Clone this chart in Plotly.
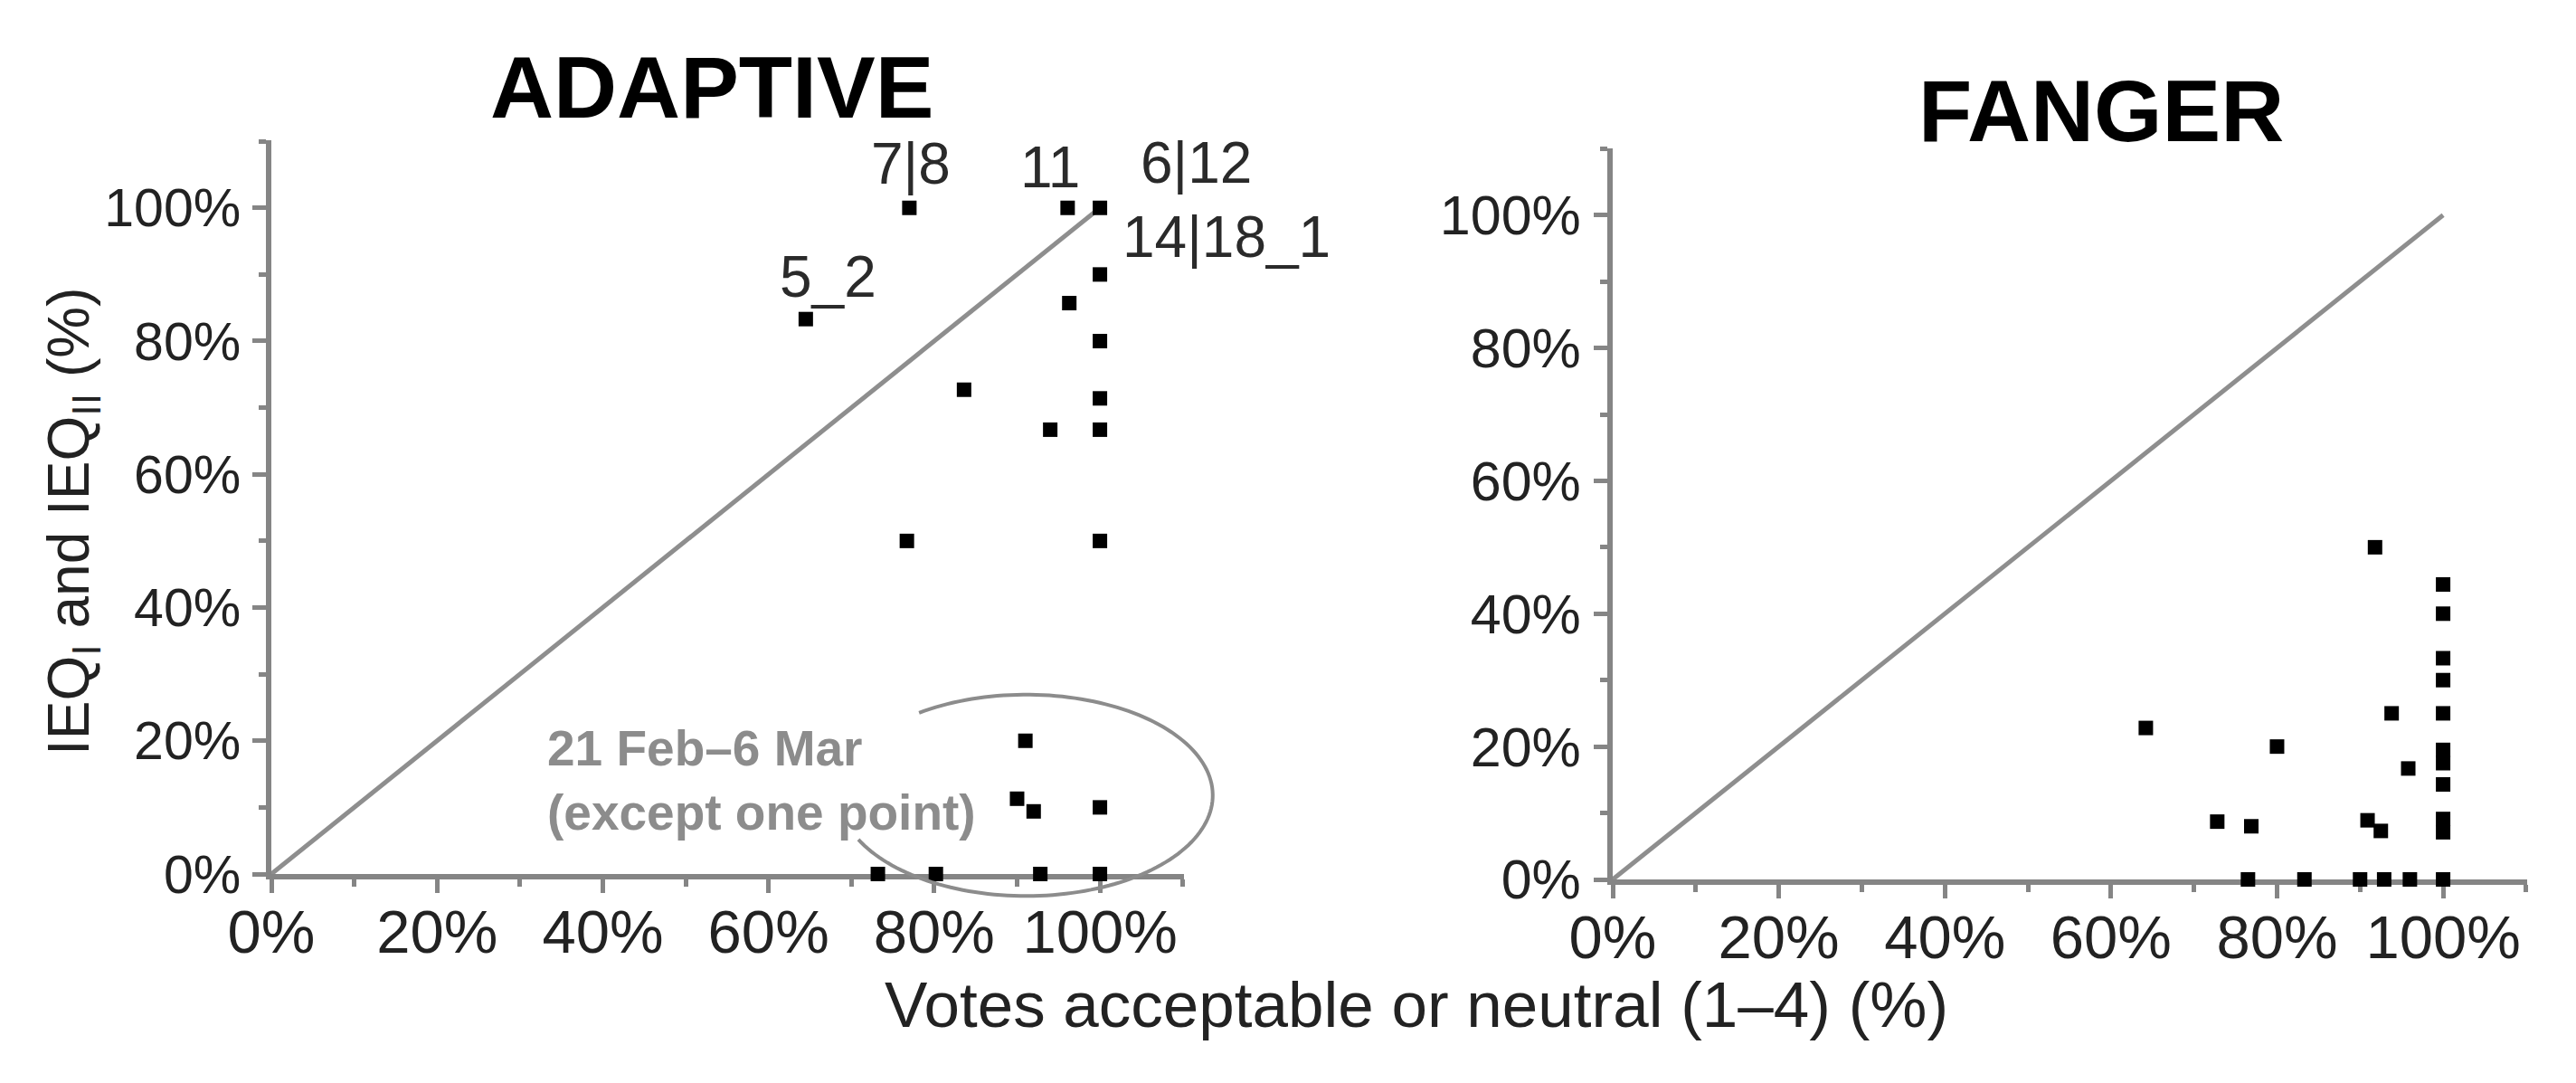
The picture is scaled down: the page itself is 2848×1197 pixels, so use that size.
import numpy as np
import plotly.graph_objects as go

W, H = 2848, 1197
OFF = 8  # the page body adds an 8px margin round the figure
FONT = "Liberation Sans, Arial, sans-serif"

# ---- data (fractions, shown as %) ----
# ADAPTIVE panel
adaptive_x = [0.770, 0.961, 1.0, 1.0, 0.963, 0.645, 1.0, 0.836, 1.0, 0.940, 1.0,
              0.767, 1.0, 0.910, 0.900, 0.920, 1.0, 0.732, 0.802, 0.928, 1.0]
adaptive_y = [1.0, 1.0, 1.0, 0.900, 0.857, 0.833, 0.800, 0.727, 0.714, 0.667, 0.667,
              0.500, 0.500, 0.200, 0.113, 0.094, 0.100, 0.0, 0.0, 0.0, 0.0]

# FANGER panel
fanger_x = [0.918, 1.0, 1.0, 1.0, 1.0, 0.938, 1.0, 0.642, 0.800, 1.0,
            1.0, 0.958, 1.0, 1.0, 1.0, 0.728, 0.769, 0.909, 0.925,
            0.765, 0.833, 0.900, 0.929, 0.960, 1.0]
fanger_y = [0.500, 0.444, 0.400, 0.333, 0.300, 0.250, 0.250, 0.228, 0.200, 0.195,
            0.175, 0.167, 0.143, 0.091, 0.071, 0.087, 0.080, 0.089, 0.073,
            0.0, 0.0, 0.0, 0.0, 0.0, 0.0]

diag = [0, 1]  # 1:1 reference line

tick_vals = [0, 0.2, 0.4, 0.6, 0.8, 1.0]
tick_text = ["0%", "20%", "40%", "60%", "80%", "100%"]

# labels next to the ADAPTIVE points (text, pixel centre)
point_labels = [("7|8", 1007, 181), ("11", 1161, 185), ("6|12", 1322, 180),
                ("14|18_1", 1356, 262), ("5_2", 916, 306)]

# ---- layout geometry (pixel positions in the final page) ----
AX_MAX = 1.1


def fx(p):
    return (p - OFF) / W


def fy(p):
    return 1 - (p - OFF) / H


# left panel: x 0%->300px, 100%->1217px ; y 0%->966px, 100%->229px
L_dom_x = [fx(300), fx(300 + AX_MAX * 917)]
L_dom_y = [fy(966), fy(966 - AX_MAX * 737)]
# right panel
R_dom_x = [fx(1783), fx(1783 + AX_MAX * 919)]
R_dom_y = [fy(972), fy(972 - AX_MAX * 735)]

AXC = '#858585'


def to_paper(xv, yv, dx, dy):
    return (dx[0] + xv / AX_MAX * (dx[1] - dx[0]),
            dy[0] + yv / AX_MAX * (dy[1] - dy[0]))


fig = go.Figure()

for xs, ys, xa, ya in [(adaptive_x, adaptive_y, 'x', 'y'), (fanger_x, fanger_y, 'x2', 'y2')]:
    fig.add_trace(go.Scatter(x=diag, y=diag, mode='lines', xaxis=xa, yaxis=ya,
                             line=dict(color='#8e8e8e', width=5), showlegend=False))
    fig.add_trace(go.Scatter(x=xs, y=ys, mode='markers', xaxis=xa, yaxis=ya,
                             marker=dict(symbol='square', size=16, color='black'),
                             cliponaxis=False, showlegend=False))

axis_common = dict(
    range=[0, AX_MAX * 1.001], showgrid=False, zeroline=False, automargin=False,
    showline=True, linecolor=AXC, linewidth=6, layer='below traces',
    ticks='outside', ticklen=15, tickwidth=5, tickcolor=AXC,
    tickmode='array', tickvals=tick_vals, ticktext=tick_text,
    minor=dict(tickmode='linear', tick0=0, dtick=0.1, ticks='outside',
               ticklen=8, tickwidth=5, tickcolor=AXC),
)
xfont = dict(size=67, color='#222222', family=FONT)
yfont_l = dict(size=59, color='#222222', family=FONT)
yfont_r = dict(size=61, color='#222222', family=FONT)

fig.update_layout(
    width=W, height=H,
    margin=dict(l=0, r=0, t=0, b=0, pad=0, autoexpand=False),
    paper_bgcolor='white', plot_bgcolor='white',
    font=dict(family=FONT, color='#222222'),
    xaxis=dict(domain=L_dom_x, anchor='y', ticklabelstandoff=-14, tickfont=xfont, **axis_common),
    yaxis=dict(domain=L_dom_y, anchor='x', ticklabelstandoff=1, tickfont=yfont_l, **axis_common),
    xaxis2=dict(domain=R_dom_x, anchor='y2', ticklabelstandoff=-14, tickfont=xfont, **axis_common),
    yaxis2=dict(domain=R_dom_y, anchor='x2', ticklabelstandoff=2, tickfont=yfont_r, **axis_common),
)

ann = []
# panel titles
for txt, cx, cy in [("ADAPTIVE", 787, 96), ("FANGER", 2323, 123)]:
    ann.append(dict(text=txt, x=fx(cx), y=fy(cy), xref='paper', yref='paper', showarrow=False,
                    xanchor='center', yanchor='middle',
                    font=dict(size=97, color='black', family=FONT, weight='bold')))
# axis titles
ann.append(dict(text="Votes acceptable or neutral (1–4) (%)", x=fx(1566), y=fy(1110),
                xref='paper', yref='paper', showarrow=False, xanchor='center', yanchor='middle',
                font=dict(size=71, color='#222222', family=FONT)))
ann.append(dict(text="IEQ<sub>I</sub> and IEQ<sub>II</sub> (%)", x=fx(80), y=fy(576),
                xref='paper', yref='paper', showarrow=False, textangle=-90,
                xanchor='center', yanchor='middle',
                font=dict(size=64, color='#222222', family=FONT)))
# point labels
for txt, cx, cy in point_labels:
    ann.append(dict(text=txt, x=fx(cx), y=fy(cy), xref='paper', yref='paper', showarrow=False,
                    xanchor='center', yanchor='middle',
                    font=dict(size=64, color='#2a2a2a', family=FONT)))
# period note inside the ellipse
for txt, cy in [("21 Feb–6 Mar", 827), ("(except one point)", 898)]:
    ann.append(dict(text=txt, x=fx(603), y=fy(cy), xref='paper', yref='paper', showarrow=False,
                    xanchor='left', yanchor='middle',
                    font=dict(size=55, color='#8c8c8c', family=FONT, weight='bold')))
fig.update_layout(annotations=ann)

# open ellipse round the Feb-Mar points (drawn in paper units so it can leave the axes)
ecx, ecy, ea, eb = 0.91, 0.118, 0.225, 0.151
t = np.radians(np.linspace(125, -154, 140))
ex = ecx + ea * np.cos(t)
ey = ecy + eb * np.sin(t)
pts = [to_paper(a, b, L_dom_x, L_dom_y) for a, b in zip(ex, ey)]
path = "M " + " L ".join(f"{a:.5f},{b:.5f}" for a, b in pts)
fig.add_shape(type='path', path=path, xref='paper', yref='paper',
              line=dict(color='#8c8c8c', width=4))

fig.write_html("out.html")
